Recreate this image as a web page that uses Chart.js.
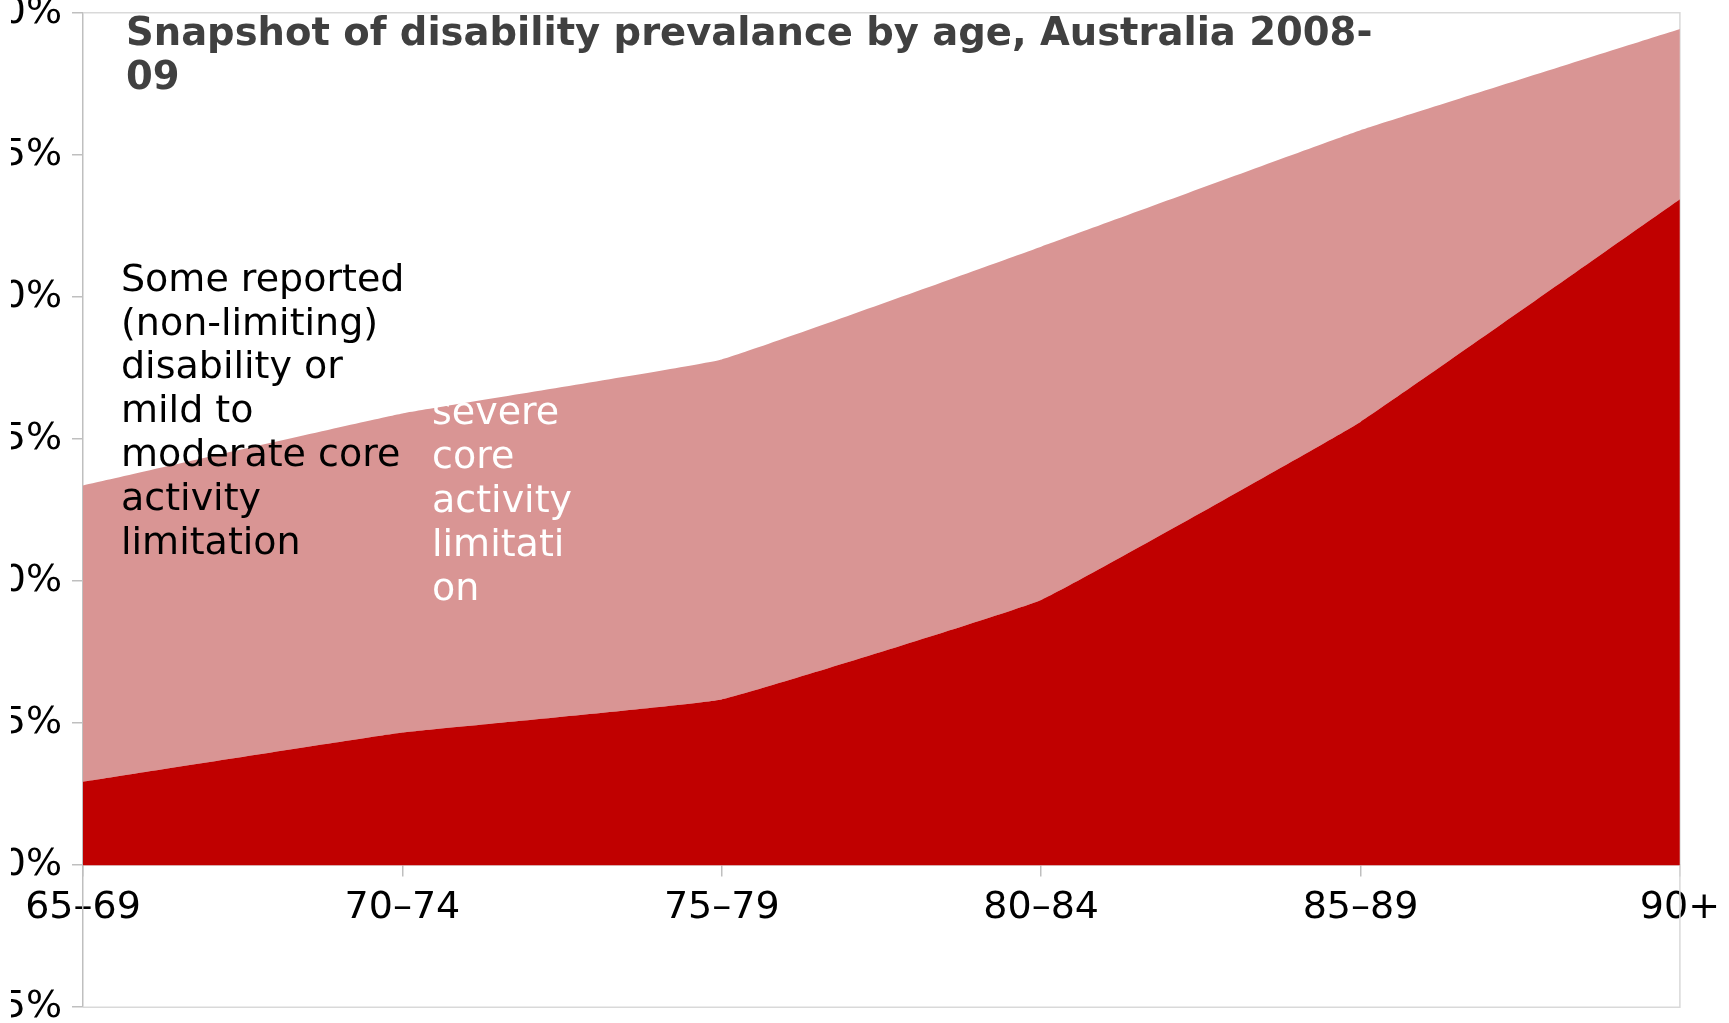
<!DOCTYPE html>
<html lang="en">
<head>
  <meta charset="UTF-8">
  <title>Disability prevalence by age</title>
  <script src="https://cdn.jsdelivr.net/npm/chart.js"></script>
  <style>
    html, body { margin: 0; padding: 0; background: #fff; overflow: hidden; }
    #wrap { position: absolute; left: 11px; top: -20px; width: 1718px; height: 1060px; }
  </style>
</head>
<body>
  <div id="wrap">
    <canvas id="prevalence-chart"></canvas>
  </div>
  <script>
    // age groups and prevalence (% of people in each group)
    const ageGroups = ['65–69', '70–74', '75–79', '80–84', '85–89', '90+'];
    const severeCore = [8.8, 14.0, 17.5, 28.0, 46.8, 70.3];
    const mildOrNonLimiting = [31.3, 33.7, 35.9, 37.3, 30.8, 18.0];
    const yTicks = { min: -15, max: 90, step: 15 };

    const titleLines = ['Snapshot of disability prevalance by age, Australia 2008-', '09'];
    const mildLabel = ['Some reported', '(non-limiting)', 'disability or', 'mild to', 'moderate core', 'activity', 'limitation'];
    const severeLabel = ['severe', 'core', 'activity', 'limitati', 'on'];

    const FONT = '"DejaVu Sans", sans-serif';

    // frame round the plot, title and the in-chart labels
    const decorations = {
      id: 'decorations',
      beforeDatasetsDraw(chart) {
        const { ctx, chartArea: a } = chart;
        ctx.save();
        ctx.strokeStyle = '#d9d9d9';
        ctx.lineWidth = 1.5;
        ctx.beginPath();
        ctx.moveTo(a.left, a.top);
        ctx.lineTo(a.right, a.top);
        ctx.lineTo(a.right, a.bottom);
        ctx.lineTo(a.left, a.bottom);
        ctx.stroke();
        ctx.restore();
      },
      afterDraw(chart) {
        const { ctx, chartArea: a } = chart;
        ctx.save();
        ctx.textAlign = 'left';
        ctx.textBaseline = 'alphabetic';

        ctx.font = 'bold 38.5px ' + FONT;
        ctx.fillStyle = '#404040';
        titleLines.forEach((t, i) => ctx.fillText(t, a.left + 43, a.top + 32 + i * 44));

        ctx.font = '38px ' + FONT;
        ctx.fillStyle = '#000000';
        mildLabel.forEach((t, i) => ctx.fillText(t, a.left + 38, a.top + 278 + i * 43.8));

        ctx.fillStyle = '#ffffff';
        severeLabel.forEach((t, i) => ctx.fillText(t, a.left + 349, a.top + 411 + i * 44));
        ctx.restore();
      }
    };

    const ctx = document.getElementById('prevalence-chart').getContext('2d');
    new Chart(ctx, {
      type: 'line',
      data: {
        labels: ageGroups,
        datasets: [
          {
            label: 'severe core activity limitation',
            data: severeCore,
            backgroundColor: '#c00000',
            borderWidth: 0,
            pointRadius: 0,
            tension: 0.08,
            fill: 'origin'
          },
          {
            label: 'Some reported (non-limiting) disability or mild to moderate core activity limitation',
            data: mildOrNonLimiting,
            backgroundColor: '#d99594',
            borderWidth: 0,
            pointRadius: 0,
            tension: 0.08,
            fill: '-1'
          }
        ]
      },
      options: {
        responsive: true,
        maintainAspectRatio: false,
        animation: false,
        layout: { padding: { top: 0, right: 49, bottom: 0, left: 0 } },
        plugins: {
          legend: { display: false },
          tooltip: { enabled: false }
        },
        scales: {
          x: {
            type: 'category',
            position: { y: 0 },
            offset: false,
            grid: { drawOnChartArea: false, color: '#bfbfbf', tickLength: 11, lineWidth: 1.5 },
            border: { color: '#c8c8c8', width: 1.5 },
            ticks: {
              autoSkip: false,
              maxRotation: 0,
              color: '#000000',
              padding: 9,
              font: { family: FONT, size: 38 }
            }
          },
          y: {
            stacked: true,
            min: yTicks.min,
            max: yTicks.max,
            afterFit(scale) { scale.width = 72; },
            grid: { drawOnChartArea: false, color: '#bfbfbf', tickLength: 11, lineWidth: 1.5 },
            border: { color: '#bfbfbf', width: 1.5 },
            ticks: {
              stepSize: yTicks.step,
              color: '#000000',
              padding: 10,
              font: { family: FONT, size: 38 },
              callback: v => v + '%'
            }
          }
        }
      },
      plugins: [decorations]
    });
  </script>
</body>
</html>
